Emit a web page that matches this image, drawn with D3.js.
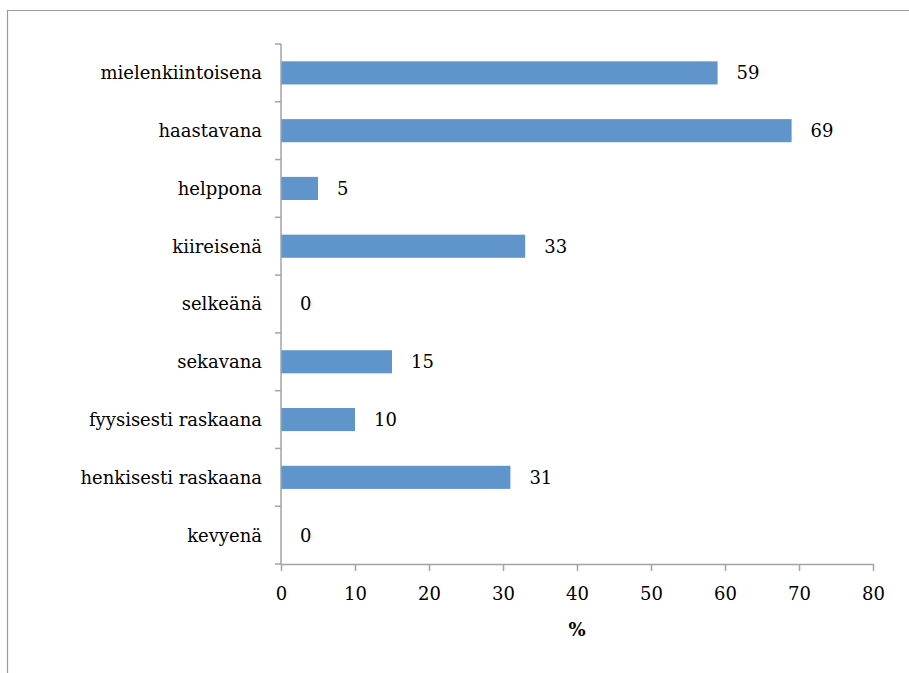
<!DOCTYPE html>
<html>
<head>
<meta charset="utf-8">
<script src="https://cdn.jsdelivr.net/npm/d3@7"></script>
<style>
  html, body { margin: 0; padding: 0; background: #fff; }
  svg { display: block; }
  text { font-family: "DejaVu Serif", "Liberation Serif", serif; fill: #000; }
</style>
</head>
<body>
<svg id="chart" width="909" height="673"></svg>
<script>
// Share of respondents (%) describing the work with each adjective
const categories = [
  "mielenkiintoisena", "haastavana", "helppona", "kiireisenä", "selkeänä",
  "sekavana", "fyysisesti raskaana", "henkisesti raskaana", "kevyenä"
];
const values = [59, 69, 5, 33, 0, 15, 10, 31, 0];
const xTicks = [0, 10, 20, 30, 40, 50, 60, 70, 80];
const xTitle = "%";

const svg = d3.select("#chart");
const margin = { left: 281, right: 36, top: 44, bottom: 109 };
const W = 909, H = 673;
const fontSize = 18;

// Outer frame
svg.append("path")
  .attr("d", `M7.5,${H} V10.5 H${W}`)
  .attr("fill", "none")
  .attr("stroke", "#9a9a9a")
  .attr("stroke-width", 1.2);

const x = d3.scaleLinear().domain([0, 80]).range([margin.left, W - margin.right]);
const y = d3.scaleBand().domain(categories).range([margin.top, H - margin.bottom])
  .paddingInner(0.6).paddingOuter(0.3);

const axisColor = "#a3a3a3";
const rows = categories.map((c, i) => ({ c, v: values[i] }));

// Bars
svg.append("g").selectAll("rect")
  .data(rows)
  .join("rect")
  .attr("x", x(0))
  .attr("y", d => y(d.c))
  .attr("width", d => x(d.v) - x(0))
  .attr("height", y.bandwidth())
  .attr("fill", "#5f95ca");

// Value labels
svg.append("g").selectAll("text")
  .data(rows)
  .join("text")
  .attr("x", d => x(d.v) + 19)
  .attr("y", d => y(d.c) + y.bandwidth() / 2)
  .attr("dy", "0.36em")
  .attr("font-size", fontSize)
  .text(d => d.v);

// Category axis with boundary ticks between categories
const yTop = margin.top, yBot = H - margin.bottom;
const yAxis = svg.append("g");
yAxis.append("line")
  .attr("x1", x(0)).attr("x2", x(0))
  .attr("y1", yTop).attr("y2", yBot)
  .attr("stroke", axisColor).attr("stroke-width", 1.5);
yAxis.selectAll("line.tick")
  .data(d3.range(categories.length + 1))
  .join("line").attr("class", "tick")
  .attr("x1", x(0) - 6).attr("x2", x(0))
  .attr("y1", i => yTop + i * (yBot - yTop) / categories.length)
  .attr("y2", i => yTop + i * (yBot - yTop) / categories.length)
  .attr("stroke", axisColor).attr("stroke-width", 1.5);
yAxis.selectAll("text")
  .data(categories)
  .join("text")
  .attr("x", x(0) - 19)
  .attr("y", d => y(d) + y.bandwidth() / 2)
  .attr("dy", "0.36em")
  .attr("text-anchor", "end")
  .attr("font-size", fontSize)
  .text(d => d);

// Value axis
const xAxis = svg.append("g")
  .attr("transform", `translate(0,${yBot})`)
  .call(d3.axisBottom(x).tickValues(xTicks).tickSize(7).tickPadding(16).tickSizeOuter(0));
xAxis.select(".domain").attr("stroke", axisColor).attr("stroke-width", 1.5);
xAxis.selectAll(".tick line").attr("stroke", axisColor).attr("stroke-width", 1.5);
xAxis.selectAll(".tick text")
  .attr("font-size", fontSize)
  .attr("font-family", "DejaVu Serif, serif")
  .attr("fill", "#000");

svg.append("text")
  .attr("x", (x(0) + x(80)) / 2)
  .attr("y", 636)
  .attr("text-anchor", "middle")
  .attr("font-size", fontSize)
  .attr("font-weight", "bold")
  .text(xTitle);
</script>
</body>
</html>
